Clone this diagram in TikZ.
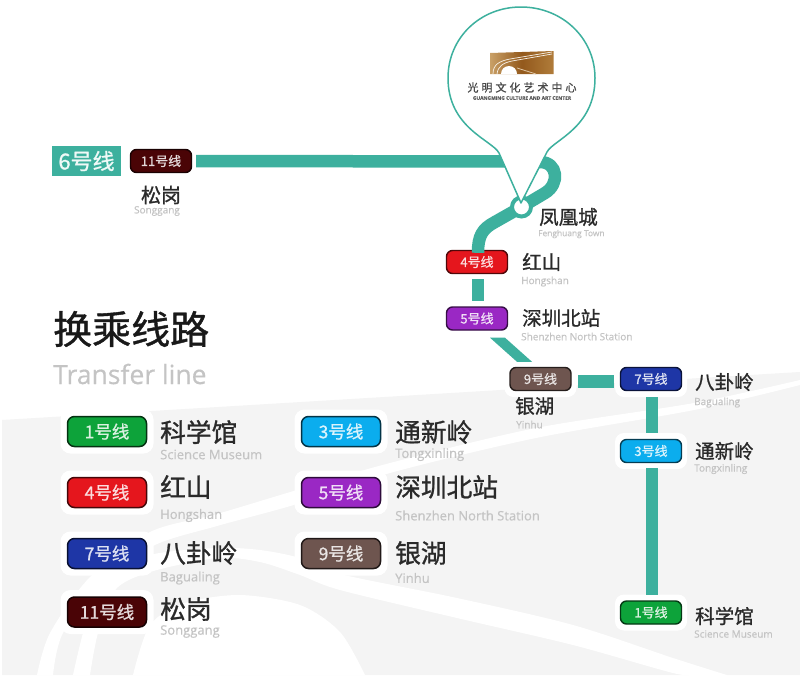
\documentclass[tikz,border=0pt]{standalone}
\usepackage{fontspec}
\setmainfont{Noto Sans CJK SC}[FakeBold=1.0]
\newfontfamily\cnfont{Noto Sans CJK SC}[FakeBold=1.0]
\newfontfamily\latinf{Open Sans}[FakeBold=0.4]
\definecolor{teal6}{HTML}{3DB09E}
\definecolor{bggrey}{HTML}{F4F4F4}
\definecolor{engrey}{HTML}{C4C4C4}
\definecolor{cnblack}{HTML}{2A2A2A}
\definecolor{l1}{HTML}{0DA33A}
\definecolor{l3}{HTML}{0BADEE}
\definecolor{l4}{HTML}{E5161D}
\definecolor{l5}{HTML}{9A28C4}
\definecolor{l7}{HTML}{1E36A6}
\definecolor{l9}{HTML}{6E554F}
\definecolor{l11}{HTML}{4A0406}
\definecolor{gold1}{HTML}{C9A067}
\definecolor{gold2}{HTML}{93591C}
\definecolor{gold3}{HTML}{B07C3A}
\tikzset{
  badge/.style={rounded corners=6pt,draw=#1!35!black,line width=1.4pt,fill=#1,text=white!85!#1,minimum width=61pt,minimum height=23pt,inner sep=0pt,font=\fontsize{13}{14}\selectfont},
  bigbadge/.style={rounded corners=7pt,draw=#1!30!black,line width=1.5pt,fill=#1,text=white!85!#1,minimum width=79pt,minimum height=30pt,inner sep=0pt,font=\fontsize{17.5}{18}\selectfont},
  halo/.style={rounded corners=9pt,fill=white,draw=none,inner sep=0pt,minimum width=72pt,minimum height=36pt},
  bighalo/.style={rounded corners=10pt,fill=white,draw=none,inner sep=0pt,minimum width=93pt,minimum height=44pt},
  cn/.style={text=cnblack,inner sep=0pt,anchor=west,font=\cnfont\fontsize{19.5}{20}\selectfont},
  cnbig/.style={text=cnblack,inner sep=0pt,anchor=west,font=\cnfont\fontsize{25.7}{27}\selectfont},
  en/.style={text=engrey,inner sep=0pt,anchor=west,font=\latinf\fontsize{10}{11}\selectfont},
  enbig/.style={text=engrey,inner sep=0pt,anchor=west,font=\latinf\fontsize{13}{14}\selectfont},
  route/.style={draw=teal6,line width=12.5pt},
}
\begin{document}
\begin{tikzpicture}[x=1pt,y=-1pt]
\useasboundingbox (0,0) rectangle (800,675);
\fill[white] (0,0) rectangle (800,675);
% background
\fill[bggrey] (2,420) -- (800,372) -- (800,675) -- (2,675) -- cycle;
\fill[white] plot[smooth] coordinates {(800,380) (694,403) (536,428) (390,463) (297,490) (217,514) (150,532) (90,577) (50,633) (37,675)}
  -- plot[smooth] coordinates {(53,675) (63,633) (105,580) (155,545) (217,526) (297,504) (390,473) (536,438) (694,410) (800,385)} -- cycle;
\fill[white] plot[smooth] coordinates {(73,675) (83,633) (100,580) (150,555) (217,548) (260,550) (300,558) (340,574) (457,598) (573,625) (673,658) (730,676)}
  -- plot[smooth] coordinates {(700,676) (673,673) (573,645) (457,618) (340,590) (300,575) (260,562) (217,558) (150,572) (115,590) (98,633) (90,675)} -- cycle;
\fill[white] plot[smooth] coordinates {(133,675) (150,625) (185,603) (240,595) (300,605) (340,632) (365,675)} -- cycle;
% station badges
\node[badge=l11] (b11) at (161,161) {11号线};
\node[fill=teal6,text=white!92!teal6,minimum width=69pt,minimum height=30pt,inner sep=0pt,font=\fontsize{22}{23}\selectfont] (six) at (86.5,161) {6号线};
\node[inner sep=0pt,text=cnblack,font=\cnfont\fontsize{20}{21}\selectfont] (sg) at (161,195) {松岗};
\node[inner sep=0pt,text=engrey,font=\latinf\fontsize{10}{11}\selectfont] (sge) at (157,211) {Songgang};
\node[cn] (fh) at (539,217) {凤凰城};
\node[en,font=\latinf\fontsize{8.4}{9}\selectfont] (fhe) at (538,234) {Fenghuang Town};
\node[badge=l4] (b4) at (477,262) {4号线};
\node[cn] (hs) at (522,262) {红山};
\node[en] (hse) at (521,281.5) {Hongshan};
\node[badge=l5] (b5) at (477,318.5) {5号线};
\node[cn] (sz) at (522,318) {深圳北站};
\node[en] (sze) at (521,336.5) {Shenzhen North Station};
\node[halo] (hb9) at (540.5,379) {};
\node[badge=l9] (b9) at (540.5,379) {9号线};
\node[cn] (yh) at (515,406) {银湖};
\node[en] (yhe) at (516,424.5) {Yinhu};
\node[halo] (hb7) at (651,379) {};
\node[badge=l7] (b7) at (651,379) {7号线};
\node[cn] (bg) at (695,382) {八卦岭};
\node[en] (bge) at (694,402.5) {Bagualing};
\node[halo] (hb3) at (651,451) {};
\node[badge=l3] (b3) at (651,451) {3号线};
\node[cn] (tx) at (695,451) {通新岭};
\node[en] (txe) at (694,469) {Tongxinling};
\node[halo] (hb1) at (651,612.5) {};
\node[badge=l1] (b1) at (651,612.5) {1号线};
\node[cn] (kx) at (695,616) {科学馆};
\node[en] (kxe) at (694,634) {Science Museum};
% connectors
\coordinate (hub) at (521.5,207);
\coordinate (hj) at (515,161.5);
\draw[route] ([xshift=4pt]b11.east) -- (hj);
\draw[route] (530,162) -- (540,162) .. controls (558,162) and (560,184) .. (545,193) -- (hub) -- (495,222) .. controls (482,229) and (478,236) .. ([xshift=1pt,yshift=-3pt]b4.north);
\draw[route] ([xshift=1pt,yshift=-5pt]b4.south) -- ([xshift=1pt,yshift=5.5pt]b5.north);
\fill[teal6] ([xshift=13pt,yshift=-7pt]b5.south) -- ([xshift=28pt,yshift=-7pt]b5.south) -- ([xshift=-8.5pt,yshift=5pt]b9.north) -- ([xshift=-23.5pt,yshift=5pt]b9.north) -- cycle;
\draw[route] ([xshift=6.5pt,yshift=-2.5pt]b9.east) -- ([xshift=-6pt,yshift=-2.5pt]b7.west);
\draw[route] ([xshift=1pt,yshift=-6pt]b7.south) -- ([xshift=1pt,yshift=6pt]b3.north);
\draw[route] ([xshift=1pt,yshift=-5pt]b3.south) -- ([xshift=1pt,yshift=5.5pt]b1.north);
\node[circle,draw=teal6,line width=4pt,fill=white,minimum size=19pt,inner sep=0pt] (hubc) at (hub) {};
% pin
\draw[teal6,line width=1.5pt,fill=white,line join=round] (521,203) -- (499,153) .. controls (492,140) and (448,128) .. (448,78)
  .. controls (448,38) and (480,7) .. (521,7)
  .. controls (562,7) and (595,38) .. (595,78)
  .. controls (595,128) and (553,140) .. (547,152) -- cycle;
% logo
\shade[left color=gold1,right color=gold3,middle color=gold2] (490,53) -- (553.5,51) -- (553.5,74) -- (490,74) -- cycle;
\draw[white!85!gold1,line width=.7pt] (493,74) .. controls (493,64) and (500,61) .. (510,59) -- (552,52);
\draw[white!85!gold1,line width=.7pt] (497,74) .. controls (498,66) and (503,63) .. (512,61) -- (552,54);
\fill[white] (501,74) arc[start angle=180,end angle=0,radius=8pt];
\draw[gold1!60!white,line width=.8pt] (517,68) -- (536,74);
\node[inner sep=0pt,text=cnblack!85,font=\fontsize{11}{12}\selectfont] (lgcn) at (522,87.5) {光\hspace{3pt}明\hspace{3pt}文\hspace{3pt}化\hspace{3pt}艺\hspace{3pt}术\hspace{3pt}中\hspace{3pt}心};
\node[inner sep=0pt,text=cnblack!75,font=\latinf\bfseries\fontsize{4.9}{5}\selectfont] (lgen) at (522,98) {GUANGMING CULTURE AND ART CENTER};
% title
\node[inner sep=0pt,anchor=west,text=black!90,font=\cnfont\fontsize{39}{40}\selectfont] (tt) at (53,329) {换乘线路};
\node[inner sep=0pt,anchor=west,text=engrey,font=\latinf\fontsize{26.5}{27}\selectfont] (te) at (53,374) {Transfer line};
% legend
\foreach \nm/\col/\txt/\x/\y in {a/l1/1号线/107/431.5,b/l4/4号线/107/492.5,c/l7/7号线/107/553.5,d/l11/11号线/107/612,e/l3/3号线/341/431.5,f/l5/5号线/341/492.5,g/l9/9号线/341/553.5}{
  \node[bighalo] (h\nm) at (\x,\y) {};
  \node[bigbadge=\col] (k\nm) at (\x,\y) {\txt};
}
\node[cnbig] (c1) at (160,432) {科学馆};
\node[enbig] (e1) at (160,454.5) {Science Museum};
\node[cnbig] (c2) at (160,487) {红山};
\node[enbig] (e2) at (160,515.5) {Hongshan};
\node[cnbig] (c3) at (160,553) {八卦岭};
\node[enbig] (e3) at (160,578) {Bagualing};
\node[cnbig] (c4) at (160,609) {松岗};
\node[enbig] (e4) at (160,631.5) {Songgang};
\node[cnbig] (c5) at (395,432) {通新岭};
\node[enbig] (e5) at (395,454.5) {Tongxinling};
\node[cnbig] (c6) at (395,487) {深圳北站};
\node[enbig] (e6) at (395,515.5) {Shenzhen North Station};
\node[cnbig] (c7) at (395,553) {银湖};
\node[enbig] (e7) at (395,578) {Yinhu};
\end{tikzpicture}
\end{document}
